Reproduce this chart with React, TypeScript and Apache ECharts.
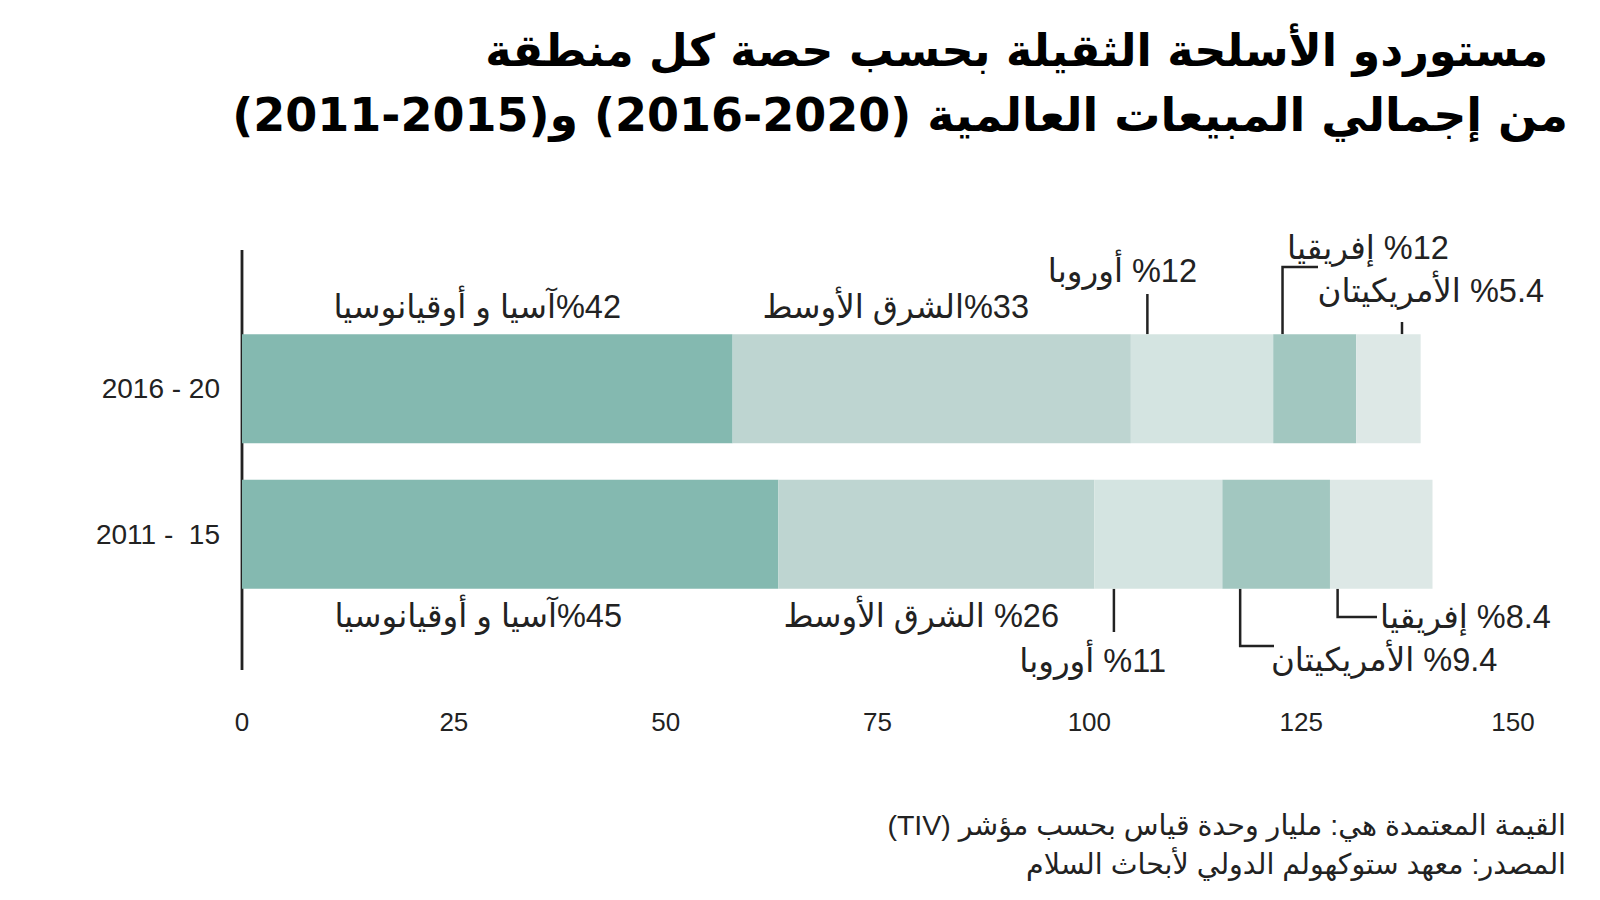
import React, { useEffect, useRef } from "react";
import * as echarts from "echarts";

// ---------- data ----------
const categories = ["2016 - 20", "2011 -  15"];
const seriesNames = [
  "آسيا و أوقيانوسيا",
  "الشرق الأوسط",
  "أوروبا",
  "إفريقيا / الأمريكيتان",
  "الأمريكيتان / إفريقيا",
];
const seg1 = [57.9, 63.3];
const seg2 = [47.0, 37.3];
const seg3 = [16.8, 15.1];
const seg4 = [9.8, 12.7];
const seg5 = [7.6, 12.1];
const xMin = 0;
const xMax = 150;
const xInterval = 25;

const titleLines = [
  "مستوردو الأسلحة الثقيلة بحسب حصة كل منطقة",
  "من إجمالي المبيعات العالمية (\u20662016-2020\u2069) و(\u20662011-2015\u2069)",
];
const footerLines = [
  "القيمة المعتمدة هي: مليار وحدة قياس بحسب مؤشر (TIV)",
  "المصدر: معهد ستوكهولم الدولي لأبحاث السلام",
];

// annotation texts with the value where their leader touches the bar
const annTexts = [
  "%42آسيا و أوقيانوسيا",
  "%33الشرق الأوسط",
  "%12 أوروبا",
  "%12 إفريقيا",
  "%5.4 الأمريكيتان",
  "%45آسيا و أوقيانوسيا",
  "%26 الشرق الأوسط",
  "%11 أوروبا",
  "%9.4 الأمريكيتان",
  "%8.4 إفريقيا",
];
const annCategory = [0, 0, 0, 0, 0, 1, 1, 1, 1, 1];
const annLeaderValue = [null, null, 106.85, 122.8, 136.9, null, null, 102.9, 117.8, 129.3];

const colors = ["#84b9b0", "#bed5d1", "#d4e4e1", "#a2c7c0", "#dde8e6"];

// ---------- layout (pixels) ----------
type Lay = { x: number; y: number; align: "left" | "right"; leaderEnd?: number; elbowTo?: number };
const annLayout: Lay[] = [
  { x: 621, y: 307, align: "right" },
  { x: 1029, y: 307, align: "right" },
  { x: 1197, y: 271, align: "right", leaderEnd: 294 },
  { x: 1287, y: 248, align: "left", leaderEnd: 267, elbowTo: 1318 },
  { x: 1544, y: 291, align: "right", leaderEnd: 322 },
  { x: 622, y: 616, align: "right" },
  { x: 1059, y: 616, align: "right" },
  { x: 1166, y: 661, align: "right", leaderEnd: 632 },
  { x: 1271, y: 660, align: "left", leaderEnd: 646, elbowTo: 1274 },
  { x: 1380, y: 617, align: "left", leaderEnd: 617, elbowTo: 1377 },
];

const RLE = "\u202B";
const PDF = "\u202C";
const rtl = (s: string) => RLE + s + PDF;

const LATIN = '"Liberation Sans", "DejaVu Sans", sans-serif';
const AR = '"Liberation Sans", "DejaVu Sans", sans-serif';
const INK = "#222222";
const BAR_W = 109;

export default function App() {
  const ref = useRef<HTMLDivElement>(null);

  useEffect(() => {
    if (!ref.current) return;
    const chart = echarts.init(ref.current, null, { renderer: "svg" });
    const segs = [seg1, seg2, seg3, seg4, seg5];
    const option: any = {
      animation: false,
      backgroundColor: "#ffffff",
      grid: { left: 242, right: 87, top: 316, bottom: 293, containLabel: false },
      xAxis: {
        type: "value",
        min: xMin,
        max: xMax,
        interval: xInterval,
        splitLine: { show: false },
        axisLine: { show: false },
        axisTick: { show: false },
        axisLabel: { color: INK, fontSize: 26, fontFamily: LATIN, margin: 102 },
      },
      yAxis: {
        type: "category",
        inverse: true,
        data: categories,
        axisLine: { show: false },
        axisTick: { show: false },
        axisLabel: {
          color: INK,
          fontSize: 28,
          fontFamily: LATIN,
          margin: 22,
          padding: [8, 0, 0, 0],
        },
      },
      series: segs.map((d, i) => ({
        name: seriesNames[i],
        type: "bar",
        stack: "total",
        data: d,
        barWidth: BAR_W,
        itemStyle: { color: colors[i] },
        emphasis: { disabled: true },
      })),
    };
    chart.setOption(option);

    const graphics: any[] = [];
    // titles
    graphics.push({
      type: "text",
      x: 1548,
      y: 51,
      style: { text: rtl(titleLines[0]), font: 'bold 44.6px "DejaVu Sans", sans-serif', fill: "#000", align: "right", verticalAlign: "middle" },
    });
    graphics.push({
      type: "text",
      x: 1568,
      y: 115,
      style: { text: rtl(titleLines[1]), font: 'bold 46px "DejaVu Sans", sans-serif', fill: "#000", align: "right", verticalAlign: "middle" },
    });
    // footer
    footerLines.forEach((t, i) => {
      graphics.push({
        type: "text",
        x: 1566,
        y: 825 + i * 39,
        style: { text: rtl(t), font: `28.5px ${AR}`, fill: INK, align: "right", verticalAlign: "middle" },
      });
    });
    // vertical axis line at 0
    const x0 = chart.convertToPixel({ xAxisIndex: 0 }, 0) as number;
    graphics.push({
      type: "line",
      shape: { x1: x0, y1: 250, x2: x0, y2: 670 },
      style: { stroke: INK, lineWidth: 2.8 },
    });
    // annotations
    annTexts.forEach((t, i) => {
      const L = annLayout[i];
      graphics.push({
        type: "text",
        x: L.x,
        y: L.y,
        style: { text: rtl(t), font: `32.5px ${AR}`, fill: INK, align: L.align, verticalAlign: "middle" },
      });
      const v = annLeaderValue[i];
      if (v != null && L.leaderEnd != null) {
        const cy = chart.convertToPixel({ yAxisIndex: 0 }, categories[annCategory[i]]) as number;
        const edge = annCategory[i] === 0 ? cy - BAR_W / 2 : cy + BAR_W / 2;
        const lx = chart.convertToPixel({ xAxisIndex: 0 }, v) as number;
        const pts: number[][] = [[lx, edge], [lx, L.leaderEnd]];
        if (L.elbowTo != null) pts.push([L.elbowTo, L.leaderEnd]);
        graphics.push({
          type: "polyline",
          shape: { points: pts },
          style: { stroke: INK, lineWidth: 2.5, fill: null },
        });
      }
    });
    chart.setOption({ graphic: graphics });

    return () => chart.dispose();
  }, []);

  return (
    <div
      ref={ref}
      style={{ position: "absolute", left: 0, top: 0, width: 1600, height: 900, background: "#fff" }}
    />
  );
}
